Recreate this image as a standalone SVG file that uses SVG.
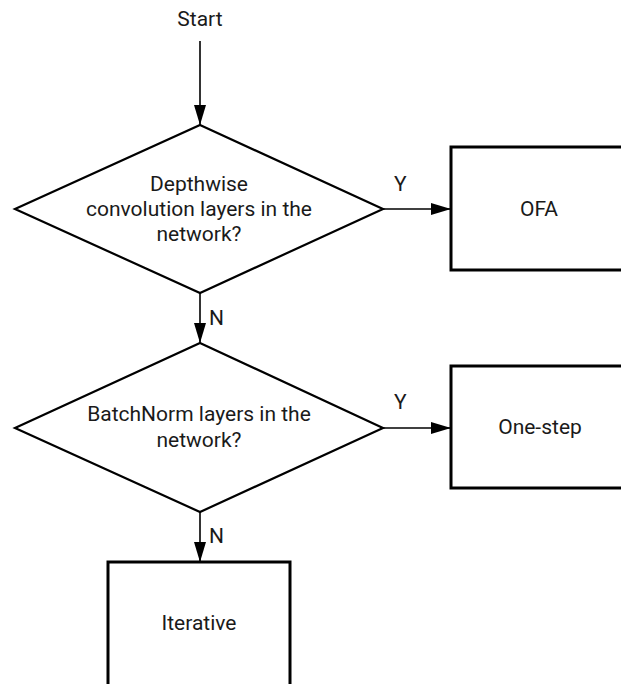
<svg xmlns="http://www.w3.org/2000/svg" width="621" height="684" viewBox="0 0 621 684">
  <defs>
    <marker id="arrow" viewBox="0 0 20 12" refX="20" refY="6" markerWidth="20" markerHeight="12" markerUnits="userSpaceOnUse" orient="auto">
      <path d="M0,0 L20,6 L0,12 Z" fill="#000"/>
    </marker>
    <style>
      .label { font-family: Roboto, "Liberation Sans", sans-serif; font-size: 21px; fill: #1a1a1a; text-anchor: middle; }
      .tag { font-family: Roboto, "Liberation Sans", sans-serif; font-size: 21px; fill: #1a1a1a; }
      .decision { fill: #fff; stroke: #000; stroke-width: 2.2; stroke-linejoin: miter; }
      .process { fill: #fff; stroke: #000; stroke-width: 3; }
      .flow { fill: none; stroke: #000; stroke-width: 1.6; marker-end: url(#arrow); }
    </style>
  </defs>

  <rect width="621" height="684" fill="#fff"/>

  <!-- connectors -->
  <g id="connectors">
    <line class="flow" x1="200" y1="41" x2="200" y2="125"/>
    <line class="flow" x1="383" y1="209" x2="451" y2="209"/>
    <line class="flow" x1="200" y1="293" x2="200" y2="343"/>
    <line class="flow" x1="383" y1="428" x2="451" y2="428"/>
    <line class="flow" x1="200" y1="512" x2="200" y2="562"/>
    <text class="tag" x="394" y="191">Y</text>
    <text class="tag" x="394" y="409">Y</text>
    <text class="tag" x="209" y="325">N</text>
    <text class="tag" x="209" y="543">N</text>
  </g>

  <!-- start terminal label -->
  <g id="start">
    <text class="label" x="200" y="26">Start</text>
  </g>

  <!-- first decision -->
  <g id="depthwise-check">
    <polygon class="decision" points="200,125 383,209 200,293 15,209"/>
    <text class="label" x="199" y="191">Depthwise</text>
    <text class="label" x="199" y="216">convolution layers in the</text>
    <text class="label" x="199" y="241">network?</text>
  </g>

  <!-- second decision -->
  <g id="batchnorm-check">
    <polygon class="decision" points="200,343 383,428 200,512 15,428"/>
    <text class="label" x="199" y="421">BatchNorm layers in the</text>
    <text class="label" x="199" y="447">network?</text>
  </g>

  <!-- outcomes -->
  <g id="ofa">
    <rect class="process" x="451" y="147" width="180" height="123"/>
    <text class="label" x="539" y="216">OFA</text>
  </g>

  <g id="one-step">
    <rect class="process" x="451" y="366" width="180" height="122"/>
    <text class="label" x="540" y="434">One-step</text>
  </g>

  <g id="iterative">
    <rect class="process" x="108" y="562" width="182" height="140"/>
    <text class="label" x="199" y="630">Iterative</text>
  </g>
</svg>
